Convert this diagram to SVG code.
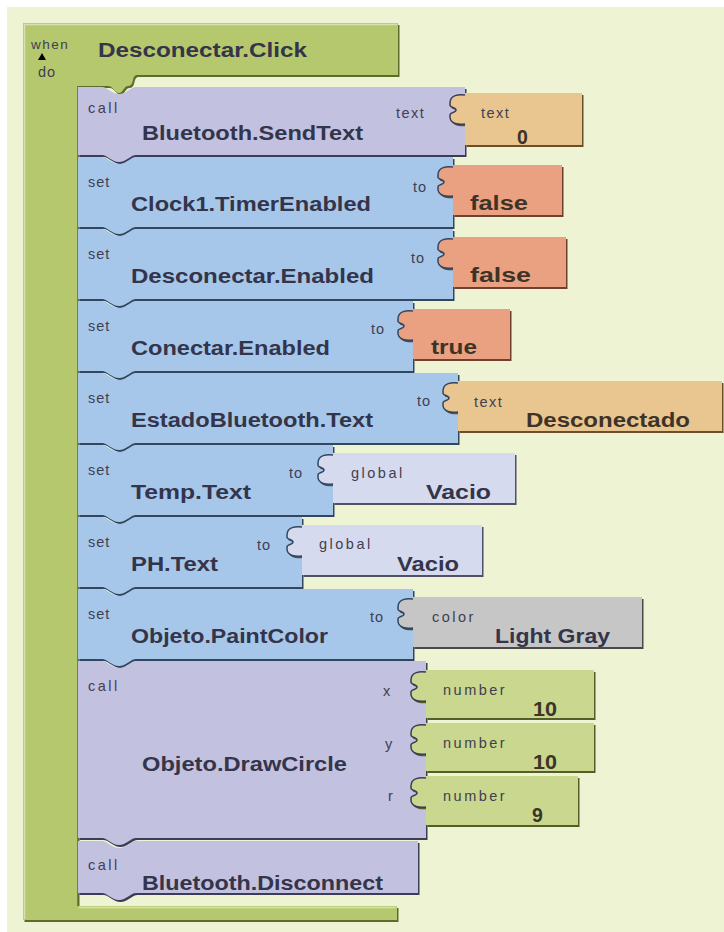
<svg xmlns="http://www.w3.org/2000/svg" width="724" height="932" viewBox="0 0 724 932">
<defs>
<style>
.bg{fill:#edf3d3}
.grn{fill:#b6c86d}.grn-s{fill:#5d6b2c}
.pur{fill:#c3c1e0}.pur-s{fill:#3c3c58}
.blu{fill:#a6c7ea}.blu-s{fill:#33465f}
.tan{fill:#e9c690}.tan-s{fill:#6b4f2a}
.sal{fill:#eaa181}.sal-s{fill:#6e4030}
.lav{fill:#d6daef}.lav-s{fill:#4d5066}
.gry{fill:#c6c6c6}.gry-s{fill:#4a4a4a}
.num{fill:#c9d78f}.num-s{fill:#525d28}
.tab{fill:none;stroke-width:1.5}
.hl{fill:none;stroke:#ffffff;stroke-opacity:0.45;stroke-width:1.5}
.big{font-family:"Liberation Sans",Arial,sans-serif;font-weight:bold;font-size:19.5px;fill:#34344a}
.bigv{font-family:"Liberation Sans",Arial,sans-serif;font-weight:bold;font-size:19.5px;fill:#3d3328}
.sm{font-family:"Liberation Sans",Arial,sans-serif;font-size:14.5px;fill:#404050;letter-spacing:2.5px}
</style>
</defs>
<rect x="0" y="0" width="724" height="932" fill="#ffffff"/>
<rect class="bg" x="7" y="7" width="717" height="925"/>

<g id="when-block">
<path class="grn-s" transform="translate(1.5,2)" d="M23,23 H398 V75 H137 Q134,75 133,80 Q132,86 128,86 C124,86 123,93 119,93 C115,93 113,86 108,86 H78 V906 H397 V920 H23 Z"/>
<path class="grn" d="M23,23 H398 V75 H137 Q134,75 133,80 Q132,86 128,86 C124,86 123,93 119,93 C115,93 113,86 108,86 H78 V906 H397 V920 H23 Z"/>
<path class="hl" d="M24,24.5 H397 M24.5,24 V919 M79,907.5 H396"/>
<path d="M78,86 V906" stroke="#5d6b2c" stroke-width="1.5"/>
<text class="sm" x="31" y="49" style="font-size:13.5px;letter-spacing:1.5px">when</text>
<path d="M38,60 L42,53 L46,60 Z" fill="#000"/>
<text class="big" x="98" y="57" textLength="209" lengthAdjust="spacingAndGlyphs">Desconectar.Click</text>
<text class="sm" x="38" y="77" style="letter-spacing:1px">do</text>
</g>

<g id="connectors"></g>

<g id="call-sendtext">
<path class="pur-s" transform="translate(1.5,2)" d="M78,87 H102 C107,87 112,94 119,94 C126,94 131,87 136,87 H465 V155 H136 C131,155 126,162 119,162 C112,162 107,155 102,155 H78 Z"/>
<path class="pur" d="M78,87 H102 C107,87 112,94 119,94 C126,94 131,87 136,87 H465 V155 H136 C131,155 126,162 119,162 C112,162 107,155 102,155 H78 Z"/>
<text class="sm" x="88" y="113">call</text>
<text class="big" x="142" y="140" textLength="221" lengthAdjust="spacingAndGlyphs">Bluetooth.SendText</text>
<text class="sm" x="396" y="118" style="letter-spacing:1.5px">text</text>
</g>
<g id="text-0">
<path class="tan-s" transform="translate(1.5,2)" d="M465,93 H582 V145 H465 V124 C459,125 450,124 450,117 V115 C450,112 456,113 456,110 C456,107 450,108 450,105 V103 C450,95 459,94 465,95 Z"/>
<path class="tan" d="M465,93 H582 V145 H465 V124 C459,125 450,124 450,117 V115 C450,112 456,113 456,110 C456,107 450,108 450,105 V103 C450,95 459,94 465,95 Z"/>
<path class="tab" stroke="#3c3c58" d="M465,124 C459,125 450,124 450,117 V115 C450,112 456,113 456,110 C456,107 450,108 450,105 V103 C450,95 459,94 465,95"/>
<text class="sm" x="481" y="118" style="letter-spacing:1.5px">text</text>
<text class="bigv" x="517" y="144">0</text>
</g>

<g id="set-clock">
<path class="blu-s" transform="translate(1.5,2)" d="M78,157 H102 C107,157 112,164 119,164 C126,164 131,157 136,157 H453 V227 H136 C131,227 126,234 119,234 C112,234 107,227 102,227 H78 Z"/>
<path class="blu" d="M78,157 H102 C107,157 112,164 119,164 C126,164 131,157 136,157 H453 V227 H136 C131,227 126,234 119,234 C112,234 107,227 102,227 H78 Z"/>
<text class="sm" x="88" y="187" style="letter-spacing:1px">set</text>
<text class="big" x="131" y="211" textLength="240" lengthAdjust="spacingAndGlyphs">Clock1.TimerEnabled</text>
<text class="sm" x="413" y="192" style="letter-spacing:1px">to</text>
</g>
<g id="false-1">
<path class="sal-s" transform="translate(1.5,2)" d="M453,165 H562 V215 H453 V196 C447,197 438,196 438,189 V187 C438,184 444,185 444,182 C444,179 438,180 438,177 V175 C438,167 447,166 453,167 Z"/>
<path class="sal" d="M453,165 H562 V215 H453 V196 C447,197 438,196 438,189 V187 C438,184 444,185 444,182 C444,179 438,180 438,177 V175 C438,167 447,166 453,167 Z"/>
<path class="tab" stroke="#33465f" d="M453,196 C447,197 438,196 438,189 V187 C438,184 444,185 444,182 C444,179 438,180 438,177 V175 C438,167 447,166 453,167"/>
<text class="bigv" x="470" y="210" textLength="58" lengthAdjust="spacingAndGlyphs">false</text>
</g>

<g id="set-desconectar">
<path class="blu-s" transform="translate(1.5,2)" d="M78,229 H102 C107,229 112,236 119,236 C126,236 131,229 136,229 H453 V299 H136 C131,299 126,306 119,306 C112,306 107,299 102,299 H78 Z"/>
<path class="blu" d="M78,229 H102 C107,229 112,236 119,236 C126,236 131,229 136,229 H453 V299 H136 C131,299 126,306 119,306 C112,306 107,299 102,299 H78 Z"/>
<text class="sm" x="88" y="259" style="letter-spacing:1px">set</text>
<text class="big" x="131" y="283" textLength="243" lengthAdjust="spacingAndGlyphs">Desconectar.Enabled</text>
<text class="sm" x="411" y="263" style="letter-spacing:1px">to</text>
</g>
<g id="false-2">
<path class="sal-s" transform="translate(1.5,2)" d="M453,237 H566 V287 H453 V268 C447,269 438,268 438,261 V259 C438,256 444,257 444,254 C444,251 438,252 438,249 V247 C438,239 447,238 453,239 Z"/>
<path class="sal" d="M453,237 H566 V287 H453 V268 C447,269 438,268 438,261 V259 C438,256 444,257 444,254 C444,251 438,252 438,249 V247 C438,239 447,238 453,239 Z"/>
<path class="tab" stroke="#33465f" d="M453,268 C447,269 438,268 438,261 V259 C438,256 444,257 444,254 C444,251 438,252 438,249 V247 C438,239 447,238 453,239"/>
<text class="bigv" x="470" y="282" textLength="61" lengthAdjust="spacingAndGlyphs">false</text>
</g>

<g id="set-conectar">
<path class="blu-s" transform="translate(1.5,2)" d="M78,301 H102 C107,301 112,308 119,308 C126,308 131,301 136,301 H413 V371 H136 C131,371 126,378 119,378 C112,378 107,371 102,371 H78 Z"/>
<path class="blu" d="M78,301 H102 C107,301 112,308 119,308 C126,308 131,301 136,301 H413 V371 H136 C131,371 126,378 119,378 C112,378 107,371 102,371 H78 Z"/>
<text class="sm" x="88" y="331" style="letter-spacing:1px">set</text>
<text class="big" x="131" y="355" textLength="199" lengthAdjust="spacingAndGlyphs">Conectar.Enabled</text>
<text class="sm" x="371" y="334" style="letter-spacing:1px">to</text>
</g>
<g id="true">
<path class="sal-s" transform="translate(1.5,2)" d="M413,309 H510 V359 H413 V340 C407,341 398,340 398,333 V331 C398,328 404,329 404,326 C404,323 398,324 398,321 V319 C398,311 407,310 413,311 Z"/>
<path class="sal" d="M413,309 H510 V359 H413 V340 C407,341 398,340 398,333 V331 C398,328 404,329 404,326 C404,323 398,324 398,321 V319 C398,311 407,310 413,311 Z"/>
<path class="tab" stroke="#33465f" d="M413,340 C407,341 398,340 398,333 V331 C398,328 404,329 404,326 C404,323 398,324 398,321 V319 C398,311 407,310 413,311"/>
<text class="bigv" x="431" y="354" textLength="46" lengthAdjust="spacingAndGlyphs">true</text>
</g>

<g id="set-estado">
<path class="blu-s" transform="translate(1.5,2)" d="M78,373 H102 C107,373 112,380 119,380 C126,380 131,373 136,373 H458 V443 H136 C131,443 126,450 119,450 C112,450 107,443 102,443 H78 Z"/>
<path class="blu" d="M78,373 H102 C107,373 112,380 119,380 C126,380 131,373 136,373 H458 V443 H136 C131,443 126,450 119,450 C112,450 107,443 102,443 H78 Z"/>
<text class="sm" x="88" y="403" style="letter-spacing:1px">set</text>
<text class="big" x="131" y="427" textLength="242" lengthAdjust="spacingAndGlyphs">EstadoBluetooth.Text</text>
<text class="sm" x="417" y="406" style="letter-spacing:1px">to</text>
</g>
<g id="text-desconectado">
<path class="tan-s" transform="translate(1.5,2)" d="M458,381 H722 V431 H458 V412 C452,413 443,412 443,405 V403 C443,400 449,401 449,398 C449,395 443,396 443,393 V391 C443,383 452,382 458,383 Z"/>
<path class="tan" d="M458,381 H722 V431 H458 V412 C452,413 443,412 443,405 V403 C443,400 449,401 449,398 C449,395 443,396 443,393 V391 C443,383 452,382 458,383 Z"/>
<path class="tab" stroke="#33465f" d="M458,412 C452,413 443,412 443,405 V403 C443,400 449,401 449,398 C449,395 443,396 443,393 V391 C443,383 452,382 458,383"/>
<text class="sm" x="474" y="407" style="letter-spacing:1.5px">text</text>
<text class="bigv" x="526" y="427" textLength="164" lengthAdjust="spacingAndGlyphs">Desconectado</text>
</g>

<g id="set-temp">
<path class="blu-s" transform="translate(1.5,2)" d="M78,445 H102 C107,445 112,452 119,452 C126,452 131,445 136,445 H333 V515 H136 C131,515 126,522 119,522 C112,522 107,515 102,515 H78 Z"/>
<path class="blu" d="M78,445 H102 C107,445 112,452 119,452 C126,452 131,445 136,445 H333 V515 H136 C131,515 126,522 119,522 C112,522 107,515 102,515 H78 Z"/>
<text class="sm" x="88" y="475" style="letter-spacing:1px">set</text>
<text class="big" x="131" y="499" textLength="120" lengthAdjust="spacingAndGlyphs">Temp.Text</text>
<text class="sm" x="289" y="478" style="letter-spacing:1px">to</text>
</g>
<g id="global-vacio-1">
<path class="lav-s" transform="translate(1.5,2)" d="M333,453 H515 V503 H333 V484 C327,485 318,484 318,477 V475 C318,472 324,473 324,470 C324,467 318,468 318,465 V463 C318,455 327,454 333,455 Z"/>
<path class="lav" d="M333,453 H515 V503 H333 V484 C327,485 318,484 318,477 V475 C318,472 324,473 324,470 C324,467 318,468 318,465 V463 C318,455 327,454 333,455 Z"/>
<path class="tab" stroke="#33465f" d="M333,484 C327,485 318,484 318,477 V475 C318,472 324,473 324,470 C324,467 318,468 318,465 V463 C318,455 327,454 333,455"/>
<text class="sm" x="351" y="478">global</text>
<text class="big" x="426" y="499" textLength="65" lengthAdjust="spacingAndGlyphs">Vacio</text>
</g>

<g id="set-ph">
<path class="blu-s" transform="translate(1.5,2)" d="M78,517 H102 C107,517 112,524 119,524 C126,524 131,517 136,517 H302 V587 H136 C131,587 126,594 119,594 C112,594 107,587 102,587 H78 Z"/>
<path class="blu" d="M78,517 H102 C107,517 112,524 119,524 C126,524 131,517 136,517 H302 V587 H136 C131,587 126,594 119,594 C112,594 107,587 102,587 H78 Z"/>
<text class="sm" x="88" y="547" style="letter-spacing:1px">set</text>
<text class="big" x="131" y="571" textLength="87" lengthAdjust="spacingAndGlyphs">PH.Text</text>
<text class="sm" x="257" y="550" style="letter-spacing:1px">to</text>
</g>
<g id="global-vacio-2">
<path class="lav-s" transform="translate(1.5,2)" d="M302,525 H482 V575 H302 V556 C296,557 287,556 287,549 V547 C287,544 293,545 293,542 C293,539 287,540 287,537 V535 C287,527 296,526 302,527 Z"/>
<path class="lav" d="M302,525 H482 V575 H302 V556 C296,557 287,556 287,549 V547 C287,544 293,545 293,542 C293,539 287,540 287,537 V535 C287,527 296,526 302,527 Z"/>
<path class="tab" stroke="#33465f" d="M302,556 C296,557 287,556 287,549 V547 C287,544 293,545 293,542 C293,539 287,540 287,537 V535 C287,527 296,526 302,527"/>
<text class="sm" x="319" y="549">global</text>
<text class="big" x="397" y="571" textLength="62" lengthAdjust="spacingAndGlyphs">Vacio</text>
</g>

<g id="set-paintcolor">
<path class="blu-s" transform="translate(1.5,2)" d="M78,589 H102 C107,589 112,596 119,596 C126,596 131,589 136,589 H413 V659 H136 C131,659 126,666 119,666 C112,666 107,659 102,659 H78 Z"/>
<path class="blu" d="M78,589 H102 C107,589 112,596 119,596 C126,596 131,589 136,589 H413 V659 H136 C131,659 126,666 119,666 C112,666 107,659 102,659 H78 Z"/>
<text class="sm" x="88" y="619" style="letter-spacing:1px">set</text>
<text class="big" x="131" y="643" textLength="197" lengthAdjust="spacingAndGlyphs">Objeto.PaintColor</text>
<text class="sm" x="370" y="622" style="letter-spacing:1px">to</text>
</g>
<g id="color-lightgray">
<path class="gry-s" transform="translate(1.5,2)" d="M413,597 H642 V647 H413 V628 C407,629 398,628 398,621 V619 C398,616 404,617 404,614 C404,611 398,612 398,609 V607 C398,599 407,598 413,599 Z"/>
<path class="gry" d="M413,597 H642 V647 H413 V628 C407,629 398,628 398,621 V619 C398,616 404,617 404,614 C404,611 398,612 398,609 V607 C398,599 407,598 413,599 Z"/>
<path class="tab" stroke="#33465f" d="M413,628 C407,629 398,628 398,621 V619 C398,616 404,617 404,614 C404,611 398,612 398,609 V607 C398,599 407,598 413,599"/>
<text class="sm" x="432" y="622">color</text>
<text class="big" x="495" y="643" textLength="115" lengthAdjust="spacingAndGlyphs">Light Gray</text>
</g>

<g id="call-drawcircle">
<path class="pur-s" transform="translate(1.5,2)" d="M78,661 H102 C107,661 112,668 119,668 C126,668 131,661 136,661 H426 V838 H136 C131,838 126,845 119,845 C112,845 107,838 102,838 H78 Z"/>
<path class="pur" d="M78,661 H102 C107,661 112,668 119,668 C126,668 131,661 136,661 H426 V838 H136 C131,838 126,845 119,845 C112,845 107,838 102,838 H78 Z"/>
<text class="sm" x="88" y="691">call</text>
<text class="big" x="142" y="771" textLength="205" lengthAdjust="spacingAndGlyphs">Objeto.DrawCircle</text>
<text class="sm" x="383" y="696">x</text>
<text class="sm" x="385" y="749">y</text>
<text class="sm" x="388" y="801">r</text>
</g>
<g id="number-x">
<path class="num-s" transform="translate(1.5,2)" d="M426,670 H594 V718 H426 V701 C420,702 411,701 411,694 V692 C411,689 417,690 417,687 C417,684 411,685 411,682 V680 C411,672 420,671 426,672 Z"/>
<path class="num" d="M426,670 H594 V718 H426 V701 C420,702 411,701 411,694 V692 C411,689 417,690 417,687 C417,684 411,685 411,682 V680 C411,672 420,671 426,672 Z"/>
<path class="tab" stroke="#3c3c58" d="M426,701 C420,702 411,701 411,694 V692 C411,689 417,690 417,687 C417,684 411,685 411,682 V680 C411,672 420,671 426,672"/>
<text class="sm" x="443" y="695">number</text>
<text class="bigv" x="533" y="716" textLength="24" lengthAdjust="spacingAndGlyphs">10</text>
</g>
<g id="number-y">
<path class="num-s" transform="translate(1.5,2)" d="M426,723 H594 V771 H426 V754 C420,755 411,754 411,747 V745 C411,742 417,743 417,740 C417,737 411,738 411,735 V733 C411,725 420,724 426,725 Z"/>
<path class="num" d="M426,723 H594 V771 H426 V754 C420,755 411,754 411,747 V745 C411,742 417,743 417,740 C417,737 411,738 411,735 V733 C411,725 420,724 426,725 Z"/>
<path class="tab" stroke="#3c3c58" d="M426,754 C420,755 411,754 411,747 V745 C411,742 417,743 417,740 C417,737 411,738 411,735 V733 C411,725 420,724 426,725"/>
<text class="sm" x="443" y="748">number</text>
<text class="bigv" x="533" y="769" textLength="24" lengthAdjust="spacingAndGlyphs">10</text>
</g>
<g id="number-r">
<path class="num-s" transform="translate(1.5,2)" d="M426,776 H578 V825 H426 V807 C420,808 411,807 411,800 V798 C411,795 417,796 417,793 C417,790 411,791 411,788 V786 C411,778 420,777 426,778 Z"/>
<path class="num" d="M426,776 H578 V825 H426 V807 C420,808 411,807 411,800 V798 C411,795 417,796 417,793 C417,790 411,791 411,788 V786 C411,778 420,777 426,778 Z"/>
<path class="tab" stroke="#3c3c58" d="M426,807 C420,808 411,807 411,800 V798 C411,795 417,796 417,793 C417,790 411,791 411,788 V786 C411,778 420,777 426,778"/>
<text class="sm" x="443" y="801">number</text>
<text class="bigv" x="532" y="822">9</text>
</g>

<g id="call-disconnect">
<path class="pur-s" transform="translate(1.5,2)" d="M78,841 H102 C107,841 112,848 119,848 C126,848 131,841 136,841 H418 V893 H136 C131,893 126,900 119,900 C112,900 107,893 102,893 H78 Z"/>
<path class="pur" d="M78,841 H102 C107,841 112,848 119,848 C126,848 131,841 136,841 H418 V893 H136 C131,893 126,900 119,900 C112,900 107,893 102,893 H78 Z"/>
<text class="sm" x="88" y="870">call</text>
<text class="big" x="142" y="890" textLength="241" lengthAdjust="spacingAndGlyphs">Bluetooth.Disconnect</text>
</g>
</svg>
